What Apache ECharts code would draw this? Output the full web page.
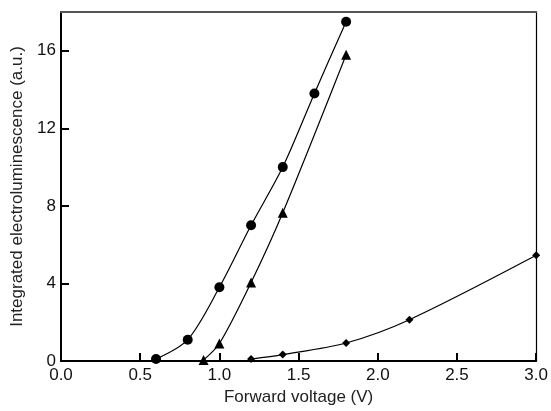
<!DOCTYPE html>
<html>
<head>
<meta charset="utf-8">
<script src="https://cdn.jsdelivr.net/npm/echarts@6/dist/echarts.min.js"></script>
<style>
  html, body { margin: 0; padding: 0; background: #fff; }
  #chart { width: 551px; height: 411px; }
</style>
</head>
<body>
<div id="chart"></div>
<script>
// circles
let circleData = [[0.6, 0.1], [0.8, 1.1], [1.0, 3.8], [1.2, 7.0], [1.4, 10.0], [1.6, 13.8], [1.8, 17.5]]
// triangles
let triangleData = [[0.9, 0.05], [1.0, 0.9], [1.2, 4.05], [1.4, 7.65], [1.8, 15.8]]
// diamonds
let diamondData = [[1.2, 0.1], [1.4, 0.33], [1.8, 0.93], [2.2, 2.13], [3.0, 5.45]]

var font = 'Liberation Sans, Arial, sans-serif'

function makeSeries(data, symbol, size) {
  return {
    type: 'line',
    data: data,
    smooth: 0.3,
    symbol: symbol,
    symbolSize: size,
    showSymbol: true,
    itemStyle: { color: '#000' },
    lineStyle: { color: '#000', width: 1.2 },
    z: 5,
  }
}

var myChart = echarts.init(document.getElementById('chart'))
var option = {
  animation: false,
  grid: {
    left: 61,
    right: 12,
    top: 12,
    bottom: 49,
  },
  xAxis: [
    {
      type: 'value',
      min: 0,
      max: 3,
      interval: 0.5,
      name: 'Forward voltage (V)',
      nameLocation: 'middle',
      nameGap: 28,
      nameTextStyle: { fontFamily: font, fontSize: 17, color: '#222' },
      axisLine: { show: true, onZero: false, lineStyle: { color: '#000', width: 2 } },
      axisTick: { inside: true, length: 8, lineStyle: { color: '#000', width: 2 } },
      axisLabel: {
        fontFamily: font, fontSize: 17, color: '#111', margin: 6,
        formatter: function (v) { return v.toFixed(1) },
      },
      splitLine: { show: false },
    },
    {
      // top frame line
      type: 'value',
      position: 'top',
      min: 0,
      max: 3,
      axisLine: { show: true, onZero: false, lineStyle: { color: '#555', width: 2 } },
      axisTick: { show: false },
      axisLabel: { show: false },
      splitLine: { show: false },
    },
  ],
  yAxis: [
    {
      type: 'value',
      min: 0,
      max: 18,
      interval: 4,
      name: 'Integrated electroluminescence (a.u.)',
      nameLocation: 'middle',
      nameGap: 33,
      nameTextStyle: { fontFamily: font, fontSize: 17, color: '#222' },
      axisLine: { show: true, onZero: false, lineStyle: { color: '#000', width: 2 } },
      axisTick: { inside: true, length: 8, lineStyle: { color: '#000', width: 2 } },
      axisLabel: {
        fontFamily: font, fontSize: 17, color: '#111', margin: 5,
        showMaxLabel: false,
      },
      splitLine: { show: false },
    },
    {
      // right frame line
      type: 'value',
      position: 'right',
      min: 0,
      max: 18,
      axisLine: { show: true, onZero: false, lineStyle: { color: '#000', width: 1.2 } },
      axisTick: { show: false },
      axisLabel: { show: false },
      splitLine: { show: false },
    },
  ],
  series: [
    makeSeries(circleData, 'circle', 10),
    makeSeries(triangleData, 'triangle', 10),
    makeSeries(diamondData, 'diamond', 8),
  ],
}
myChart.setOption(option)
</script>
</body>
</html>
